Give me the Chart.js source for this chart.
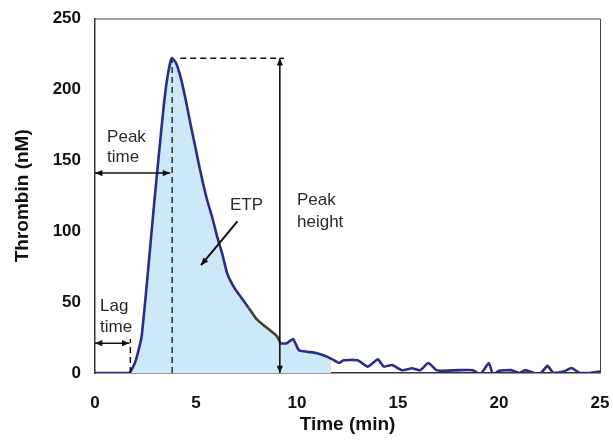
<!DOCTYPE html>
<html>
<head>
<meta charset="utf-8">
<script src="https://cdn.jsdelivr.net/npm/chart.js@4.4.1/dist/chart.umd.min.js"></script>
<style>
  html, body { margin: 0; padding: 0; background: #fff; }
  #wrap { width: 613px; height: 442px; position: relative; }
</style>
</head>
<body>
<div id="wrap"><canvas id="chart"></canvas></div>
<script>
// thrombin generation curve
const times = [0, 1.0, 1.7, 2.0, 2.3, 2.6, 2.9, 3.1, 3.4, 3.6, 3.8, 4.0, 4.25, 4.5, 4.75,
  5.0, 5.25, 5.55, 5.8, 6.05, 6.3, 6.55, 6.9, 7.2, 7.6, 8.0, 8.5, 9.0, 9.2, 9.5, 9.8,
  10.1, 10.5, 11.0, 11.4, 11.7, 12.1, 12.3, 13.0, 13.5, 14.0, 14.3, 14.7, 15.2, 15.7,
  16.1, 16.5, 16.9, 17.2, 18.0, 18.7, 19.07, 19.5, 19.7, 20.0, 20.6, 21.0, 21.3, 22.0,
  22.4, 22.7, 23.2, 23.6, 24.0, 24.5, 25.0];
const thrombin = [0, 0, 0, 8, 25, 68, 115, 145, 188, 210, 222, 219, 208, 192, 174,
  157, 140, 122, 110, 96, 84, 70, 60, 54, 46, 38, 32, 26, 21, 21, 24,
  16, 15, 14, 12, 10, 7, 9, 9, 4.5, 9.6, 4.5, 5.6, 2, 3.3,
  2, 7, 2, 1.6, 2, 2, -1, 7, -1, 1.5, 2, 0, 2, -1,
  5, 0, 1, 3.5, 0, 0, 1];

const xTicks = [0, 5, 10, 15, 20, 25];
const yTicks = [0, 50, 100, 150, 200, 250];

// parameters marked on the curve
const lagTime = 1.75;
const peakTime = 3.82;
const peakValue = 222;
const peakHeightAt = 9.15;
const etpEnd = 11.7;   // shaded area stops here

const points = times.map((t, i) => ({ x: t, y: thrombin[i] }));
const etpPoints = points.filter(p => p.x >= lagTime - 0.05 && p.x <= etpEnd);

function arrowHead(ctx, x1, y1, x2, y2) {
  const a = Math.atan2(y2 - y1, x2 - x1);
  const len = 8;
  ctx.beginPath();
  ctx.moveTo(x2, y2);
  ctx.lineTo(x2 - len * Math.cos(a - 0.4), y2 - len * Math.sin(a - 0.4));
  ctx.lineTo(x2 - len * Math.cos(a + 0.4), y2 - len * Math.sin(a + 0.4));
  ctx.closePath();
  ctx.fill();
}

function arrow(ctx, x1, y1, x2, y2, both) {
  ctx.beginPath();
  ctx.moveTo(x1, y1);
  ctx.lineTo(x2, y2);
  ctx.stroke();
  arrowHead(ctx, x1, y1, x2, y2);
  if (both) arrowHead(ctx, x2, y2, x1, y1);
}

const annotations = {
  id: 'annotations',
  afterDatasetsDraw(chart) {
    const { ctx, chartArea, scales: { x, y } } = chart;
    ctx.save();

    // frame on top and right
    ctx.strokeStyle = '#444';
    ctx.lineWidth = 1;
    ctx.beginPath();
    ctx.moveTo(chartArea.left, chartArea.top + 0.5);
    ctx.lineTo(chartArea.right + 0.5, chartArea.top + 0.5);
    ctx.lineTo(chartArea.right + 0.5, chartArea.bottom);
    ctx.stroke();

    // dashed guides
    ctx.lineWidth = 1.5;
    ctx.setLineDash([6, 4]);
    ctx.strokeStyle = '#1d3440';
    ctx.beginPath();
    ctx.moveTo(x.getPixelForValue(peakTime), y.getPixelForValue(0));
    ctx.lineTo(x.getPixelForValue(peakTime), y.getPixelForValue(peakValue - 2));
    ctx.stroke();
    ctx.strokeStyle = '#111';
    ctx.beginPath();
    ctx.moveTo(x.getPixelForValue(peakTime + 0.4), y.getPixelForValue(peakValue));
    ctx.lineTo(x.getPixelForValue(peakHeightAt + 0.2), y.getPixelForValue(peakValue));
    ctx.stroke();
    ctx.beginPath();
    ctx.moveTo(x.getPixelForValue(lagTime), y.getPixelForValue(0));
    ctx.lineTo(x.getPixelForValue(lagTime), y.getPixelForValue(24));
    ctx.stroke();
    ctx.setLineDash([]);

    // arrows
    ctx.strokeStyle = '#111';
    ctx.fillStyle = '#111';
    ctx.lineWidth = 1.6;
    arrow(ctx, x.getPixelForValue(peakHeightAt), y.getPixelForValue(peakValue),
      x.getPixelForValue(peakHeightAt), y.getPixelForValue(0), true);
    arrow(ctx, x.getPixelForValue(0), y.getPixelForValue(141),
      x.getPixelForValue(peakTime - 0.1), y.getPixelForValue(141), true);
    arrow(ctx, x.getPixelForValue(0), y.getPixelForValue(21),
      x.getPixelForValue(lagTime - 0.05), y.getPixelForValue(21), true);
    ctx.lineWidth = 2;
    arrow(ctx, x.getPixelForValue(7.05), y.getPixelForValue(107),
      x.getPixelForValue(5.25), y.getPixelForValue(76), false);

    // labels
    ctx.fillStyle = '#2a2a2a';
    ctx.font = '17px "Liberation Sans", Arial, sans-serif';
    ctx.textBaseline = 'middle';
    ctx.textAlign = 'left';
    ctx.fillText('Peak', x.getPixelForValue(0.6), y.getPixelForValue(166.5));
    ctx.fillText('time', x.getPixelForValue(0.6), y.getPixelForValue(152));
    ctx.fillText('Lag', x.getPixelForValue(0.25), y.getPixelForValue(47));
    ctx.fillText('time', x.getPixelForValue(0.25), y.getPixelForValue(32));
    ctx.fillText('Peak', x.getPixelForValue(10.0), y.getPixelForValue(122));
    ctx.fillText('height', x.getPixelForValue(10.0), y.getPixelForValue(106.5));
    ctx.textAlign = 'center';
    ctx.fillText('ETP', x.getPixelForValue(7.5), y.getPixelForValue(118.5));
    ctx.restore();
  }
};

const tickFont = { family: '"Liberation Sans", Arial, sans-serif', size: 17, weight: 'bold' };
const titleFont = { family: '"Liberation Sans", Arial, sans-serif', size: 19, weight: 'bold' };

new Chart(document.getElementById('chart'), {
  type: 'line',
  data: {
    datasets: [
      {
        label: 'Thrombin',
        data: points,
        borderColor: '#2c2c88',
        borderWidth: 2.6,
        pointRadius: 0,
        tension: 0.15,
        fill: false,
        order: 0,
        segment: {
          borderColor: c => (c.p0.parsed.x >= 7.6 && c.p1.parsed.x <= 9.2) ? '#3f3f3a' : undefined
        }
      },
      {
        label: 'ETP',
        data: etpPoints,
        borderWidth: 0,
        pointRadius: 0,
        tension: 0.15,
        backgroundColor: '#cde8f7',
        fill: 'origin',
        order: 1
      }
    ]
  },
  options: {
    responsive: true,
    maintainAspectRatio: false,
    animation: false,
    events: [],
    layout: { padding: { top: 18.5, right: 13, left: 0, bottom: 0 } },
    plugins: {
      legend: { display: false },
      tooltip: { enabled: false }
    },
    scales: {
      x: {
        type: 'linear',
        min: 0,
        max: 25,
        afterBuildTicks: axis => { axis.ticks = xTicks.map(v => ({ value: v })); },
        afterFit: axis => {
          axis.height = 69;
          axis.paddingLeft = 0;
          axis.paddingRight = 0;
        },
        grid: { display: false },
        border: { display: true, color: '#333', width: 1.5 },
        ticks: { font: tickFont, color: '#111', padding: 12 },
        title: { display: true, text: 'Time (min)', font: titleFont, color: '#111', padding: { top: 6, bottom: 6 } }
      },
      y: {
        min: 0,
        max: 250,
        afterBuildTicks: axis => { axis.ticks = yTicks.map(v => ({ value: v })); },
        afterFit: axis => {
          axis.width = 95;
          axis.paddingTop = 0;
          axis.paddingBottom = 0;
        },
        grid: { display: false },
        border: { display: true, color: '#333', width: 1.5 },
        ticks: { font: tickFont, color: '#111', padding: 6 },
        title: { display: true, text: 'Thrombin (nM)', font: titleFont, color: '#111', padding: { top: 11, bottom: 11 } }
      }
    }
  },
  plugins: [annotations]
});
</script>
</body>
</html>
